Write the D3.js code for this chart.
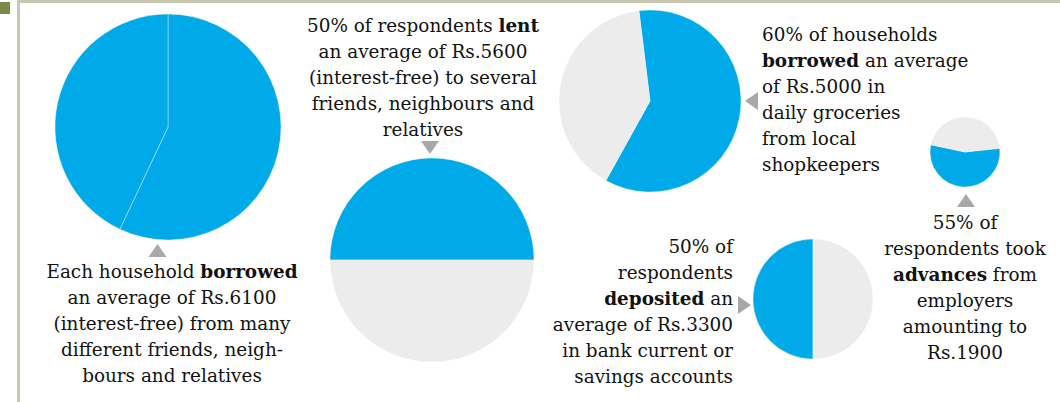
<!DOCTYPE html>
<html>
<head>
<meta charset="utf-8">
<script src="https://cdn.jsdelivr.net/npm/d3@7"></script>
<style>
  body { margin: 0; background: #fff; }
  svg { display: block; }
  text { font-family: "DejaVu Serif", serif; font-size: 18.4px; fill: #111; }
</style>
</head>
<body>
<div id="chart"></div>
<script>
const blue = "#00a9e8"
const grey = "#ececec"

// share of respondents per pie: [highlighted, rest]
const pieNames = ["borrowed", "lent", "groceries", "advances", "deposited"]
const pieShares = [[57, 43], [50, 50], [60, 40], [55, 45], [50, 50]]
const pieColors = [[blue, blue], [blue, grey], [blue, grey], [blue, grey], [blue, grey]]

// captions, *...* is bold
const captions = [
  ["Each household *borrowed*", "an average of Rs.6100", "(interest-free) from many", "different friends, neigh-", "bours and relatives"],
  ["50% of respondents *lent*", "an average of Rs.5600", "(interest-free) to several", "friends, neighbours and", "relatives"],
  ["60% of households", "*borrowed* an average", "of Rs.5000 in", "daily groceries", "from local", "shopkeepers"],
  ["55% of", "respondents took", "*advances* from", "employers", "amounting to", "Rs.1900"],
  ["50% of", "respondents", "*deposited* an", "average of Rs.3300", "in bank current or", "savings accounts"]
]

const width = 1060
const height = 402
const lineHeight = 26

// layout of each panel
const layout = [
  {cx: 168, cy: 127, r: 113, start: 0,
   text: {x: 172, y: 278, anchor: "middle"}, arrow: {x: 157.5, y: 244, dir: "up"}},
  {cx: 432, cy: 260, r: 102, start: -90,
   text: {x: 423, y: 32, anchor: "middle"}, arrow: {x: 430, y: 154, dir: "down"}},
  {cx: 650, cy: 101, r: 91, start: -7,
   text: {x: 762, y: 41, anchor: "start"}, arrow: {x: 745, y: 101, dir: "left"}},
  {cx: 965, cy: 152, r: 35, start: 84,
   text: {x: 965, y: 229, anchor: "middle"}, arrow: {x: 966, y: 194, dir: "up"}},
  {cx: 813, cy: 299, r: 60, start: 180,
   text: {x: 733, y: 253, anchor: "end"}, arrow: {x: 751, y: 305, dir: "right"}}
]

const svg = d3.select("#chart")
  .append("svg")
  .attr("width", width)
  .attr("height", height)

// frame
svg.append("rect").attr("x", 0).attr("y", 2).attr("width", 10).attr("height", 12).attr("fill", "#7b8a48")
svg.append("rect").attr("x", 17).attr("y", 0).attr("width", width - 17).attr("height", 3).attr("fill", "#c8c8b0")
svg.append("rect").attr("x", 17).attr("y", 0).attr("width", 3).attr("height", height).attr("fill", "#c8c8b0")

const arc = d3.arc().innerRadius(0)

pieNames.forEach((name, i) => {
  const l = layout[i]
  const a0 = l.start * Math.PI / 180
  const pie = d3.pie().sort(null).startAngle(a0).endAngle(a0 + 2 * Math.PI)
  const g = svg.append("g")
    .attr("class", "pie " + name)
    .attr("transform", `translate(${l.cx},${l.cy})`)
  g.selectAll("path")
    .data(pie(pieShares[i]))
    .enter()
    .append("path")
    .attr("d", d => arc.outerRadius(l.r)(d))
    .attr("fill", (d, j) => pieColors[i][j])
    .attr("stroke", "#fff")
    .attr("stroke-opacity", 0.45)
    .attr("stroke-width", 0.8)

  // caption
  const t = svg.append("text")
    .attr("text-anchor", l.text.anchor)
  captions[i].forEach((line, k) => {
    const parts = line.split("*")
    parts.forEach((p, m) => {
      if (!p) return
      const ts = t.append("tspan").text(p)
      if (m === 0 || (m === 1 && !parts[0])) {
        ts.attr("x", l.text.x).attr("y", l.text.y + k * lineHeight)
      }
      if (m % 2 === 1) ts.attr("font-weight", "bold")
    })
  })

  // pointer triangle
  const len = 13, half = 9
  const {x, y, dir} = l.arrow
  let pts
  if (dir === "up") pts = [[x, y], [x - half, y + len], [x + half, y + len]]
  if (dir === "down") pts = [[x, y], [x - half, y - len], [x + half, y - len]]
  if (dir === "left") pts = [[x, y], [x + len, y - half], [x + len, y + half]]
  if (dir === "right") pts = [[x, y], [x - len, y - half], [x - len, y + half]]
  svg.append("path")
    .attr("d", d3.line()(pts) + "Z")
    .attr("fill", "#a8a8a8")
})
</script>
</body>
</html>
